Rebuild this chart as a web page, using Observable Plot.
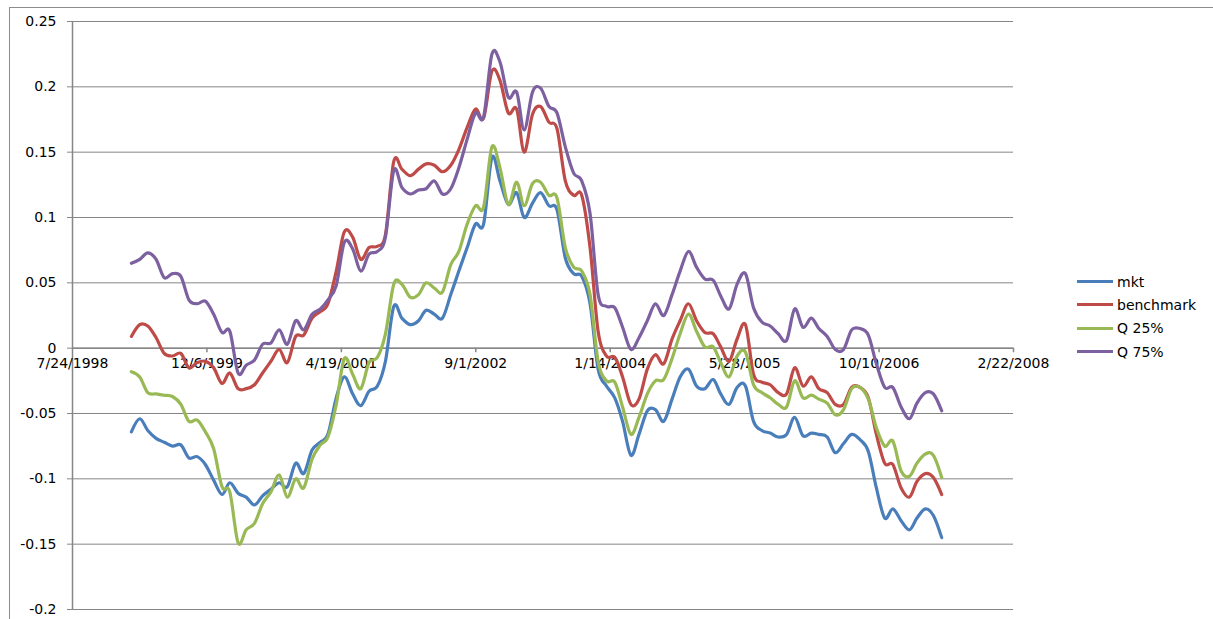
<!DOCTYPE html>
<html>
<head>
<meta charset="utf-8">
<script src="https://cdn.jsdelivr.net/npm/d3@7"></script>
<script src="https://cdn.jsdelivr.net/npm/@observablehq/plot@0.6"></script>
<style>
  html, body { margin: 0; padding: 0; background: #fff; }
  #wrap { position: relative; width: 1213px; height: 619px; overflow: hidden; font-family: "DejaVu Sans", sans-serif; }
  #frame { position: absolute; left: 9px; top: 7px; width: 1300px; height: 700px; border-left: 1.5px solid #8c8c8c; border-top: 1.5px solid #8c8c8c; }
  #chart { position: absolute; left: 0; top: 0; }
  #legend { position: absolute; left: 1077px; top: 270px; font-size: 14px; color: #000; }
  .row { display: flex; align-items: center; height: 23.3px; }
  .sw { width: 36px; height: 3px; margin-right: 4px; }
</style>
</head>
<body>
<div id="wrap">
  <div id="frame"></div>
  <div id="chart"></div>
  <div id="legend"></div>
</div>
<script>
// Series (monthly, end of Feb 1999 .. end of May 2007)
const seriesNames = ["mkt", "benchmark", "Q 25%", "Q 75%"];
const seriesColors = ["#4A7EBB", "#BE4B48", "#98B954", "#7D60A0"];

const mkt = [-0.064,-0.054,-0.063,-0.069,-0.072,-0.075,-0.074,-0.084,-0.083,-0.089,
 -0.101,-0.112,-0.103,-0.111,-0.114,-0.120,-0.113,-0.108,-0.103,-0.106,
 -0.088,-0.096,-0.078,-0.072,-0.066,-0.038,-0.022,-0.035,-0.044,-0.033,
 -0.029,-0.010,0.032,0.023,0.018,0.021,0.029,0.026,0.023,0.041,
 0.059,0.077,0.095,0.095,0.146,0.128,0.110,0.119,0.100,0.111,
 0.119,0.109,0.106,0.069,0.057,0.055,0.034,-0.016,-0.029,-0.038,
 -0.056,-0.082,-0.066,-0.048,-0.047,-0.056,-0.039,-0.022,-0.016,-0.029,
 -0.031,-0.024,-0.035,-0.043,-0.030,-0.029,-0.056,-0.063,-0.065,-0.068,
 -0.066,-0.053,-0.067,-0.065,-0.066,-0.068,-0.080,-0.073,-0.066,-0.070,
 -0.079,-0.107,-0.130,-0.123,-0.132,-0.139,-0.130,-0.123,-0.128,-0.145];

const benchmark = [0.009,0.018,0.017,0.008,-0.004,-0.006,-0.004,-0.015,-0.011,-0.010,
 -0.015,-0.027,-0.019,-0.031,-0.031,-0.028,-0.019,-0.010,-0.001,-0.011,
 0.009,0.010,0.023,0.028,0.034,0.059,0.089,0.085,0.068,0.077,
 0.078,0.087,0.143,0.137,0.132,0.137,0.141,0.140,0.135,0.140,
 0.152,0.169,0.183,0.176,0.212,0.205,0.180,0.183,0.150,0.179,
 0.185,0.173,0.168,0.128,0.117,0.117,0.077,0.013,-0.006,-0.007,
 -0.022,-0.043,-0.039,-0.016,-0.005,-0.012,0.007,0.021,0.034,0.021,
 0.012,0.011,0.001,-0.010,0.007,0.018,-0.020,-0.026,-0.028,-0.034,
 -0.035,-0.015,-0.029,-0.022,-0.031,-0.034,-0.043,-0.043,-0.030,-0.030,
 -0.038,-0.066,-0.088,-0.089,-0.107,-0.114,-0.102,-0.096,-0.099,-0.112];

const q25 = [-0.018,-0.022,-0.034,-0.035,-0.036,-0.037,-0.043,-0.056,-0.055,-0.064,
 -0.077,-0.106,-0.110,-0.149,-0.139,-0.134,-0.119,-0.110,-0.097,-0.114,
 -0.100,-0.107,-0.085,-0.074,-0.068,-0.043,-0.008,-0.020,-0.031,-0.011,
 -0.007,0.011,0.049,0.049,0.039,0.041,0.050,0.046,0.043,0.064,
 0.074,0.095,0.109,0.108,0.154,0.138,0.110,0.127,0.109,0.126,
 0.127,0.117,0.115,0.077,0.062,0.059,0.041,-0.010,-0.025,-0.026,
 -0.045,-0.066,-0.053,-0.035,-0.025,-0.024,-0.008,0.011,0.026,0.013,
 0.001,0.001,-0.011,-0.022,-0.006,-0.003,-0.028,-0.034,-0.038,-0.043,
 -0.045,-0.025,-0.038,-0.036,-0.039,-0.042,-0.051,-0.047,-0.031,-0.030,
 -0.039,-0.061,-0.075,-0.071,-0.094,-0.098,-0.088,-0.081,-0.082,-0.099];

const q75 = [0.065,0.068,0.073,0.068,0.054,0.057,0.055,0.037,0.034,0.036,
 0.026,0.012,0.013,-0.019,-0.013,-0.009,0.003,0.004,0.014,0.003,
 0.021,0.014,0.026,0.030,0.037,0.048,0.081,0.076,0.059,0.072,
 0.074,0.085,0.136,0.123,0.118,0.121,0.122,0.128,0.118,0.122,
 0.138,0.160,0.180,0.177,0.225,0.219,0.192,0.196,0.167,0.196,
 0.199,0.185,0.180,0.154,0.134,0.128,0.103,0.041,0.032,0.031,
 0.016,-0.001,0.008,0.021,0.034,0.025,0.041,0.059,0.074,0.062,
 0.053,0.052,0.040,0.030,0.049,0.057,0.031,0.020,0.017,0.011,
 0.006,0.030,0.016,0.023,0.015,0.009,-0.001,-0.001,0.014,0.015,
 0.010,-0.012,-0.030,-0.030,-0.045,-0.054,-0.042,-0.034,-0.035,-0.048];

const xTickLabels = ["7/24/1998","12/6/1999","4/19/2001","9/1/2002","1/14/2004","5/28/2005","10/10/2006","2/22/2008"];
const yTicks = [-0.2,-0.15,-0.1,-0.05,0,0.05,0.1,0.15,0.2,0.25];

// Build table
const parseMDY = s => { const [m,d,y] = s.split("/").map(Number); return new Date(Date.UTC(y, m-1, d)); };
const xTicks = xTickLabels.map(parseMDY);
const dates = mkt.map((_, i) => new Date(Date.UTC(1999, 2 + i, 0)));
const allSeries = [mkt, benchmark, q25, q75];
const rows = [];
allSeries.forEach((vals, s) => vals.forEach((v, i) => rows.push({date: dates[i], value: v, series: seriesNames[s]})));

const gray = "#868686";
const chart = Plot.plot({
  width: 1213,
  height: 619,
  marginLeft: 72,
  marginRight: 200,
  marginTop: 21,
  marginBottom: 10,
  style: {fontFamily: "DejaVu Sans, sans-serif", fontSize: "14px", background: "transparent", color: "#000", overflow: "visible"},
  x: {type: "utc", domain: [xTicks[0], xTicks[xTicks.length - 1]], axis: null},
  y: {domain: [-0.2, 0.25], label: null},
  color: {domain: seriesNames, range: seriesColors},
  marks: [
    Plot.gridY(yTicks, {stroke: gray, strokeOpacity: 1, strokeWidth: 1}),
    Plot.ruleX([xTicks[0]], {stroke: gray, strokeWidth: 1.5}),
    Plot.axisY(yTicks, {label: null, tickSize: 5, tickPadding: 11, stroke: gray, tickFormat: d => String(+d.toFixed(2)), fill: "#000"}),
    Plot.ruleY([0], {stroke: gray, strokeWidth: 1.5}),
    Plot.ruleX(xTicks.slice(1), {x: d => d, y1: 0, y2: -0.0035, stroke: gray, strokeWidth: 1.5}),
    Plot.text(xTicks, {x: d => d, y: 0, dy: 15, text: (d, i) => xTickLabels[i], fill: "#000"}),
    Plot.line(rows, {x: "date", y: "value", z: "series", stroke: "series", strokeWidth: 3.2, curve: "cardinal", strokeLinejoin: "round", strokeLinecap: "round"})
  ]
});
document.getElementById("chart").appendChild(chart);

// Legend
const legend = document.getElementById("legend");
seriesNames.forEach((name, i) => {
  const row = document.createElement("div");
  row.className = "row";
  const sw = document.createElement("div");
  sw.className = "sw";
  sw.style.background = seriesColors[i];
  const t = document.createElement("span");
  t.textContent = name;
  row.appendChild(sw); row.appendChild(t);
  legend.appendChild(row);
});
</script>
</body>
</html>
